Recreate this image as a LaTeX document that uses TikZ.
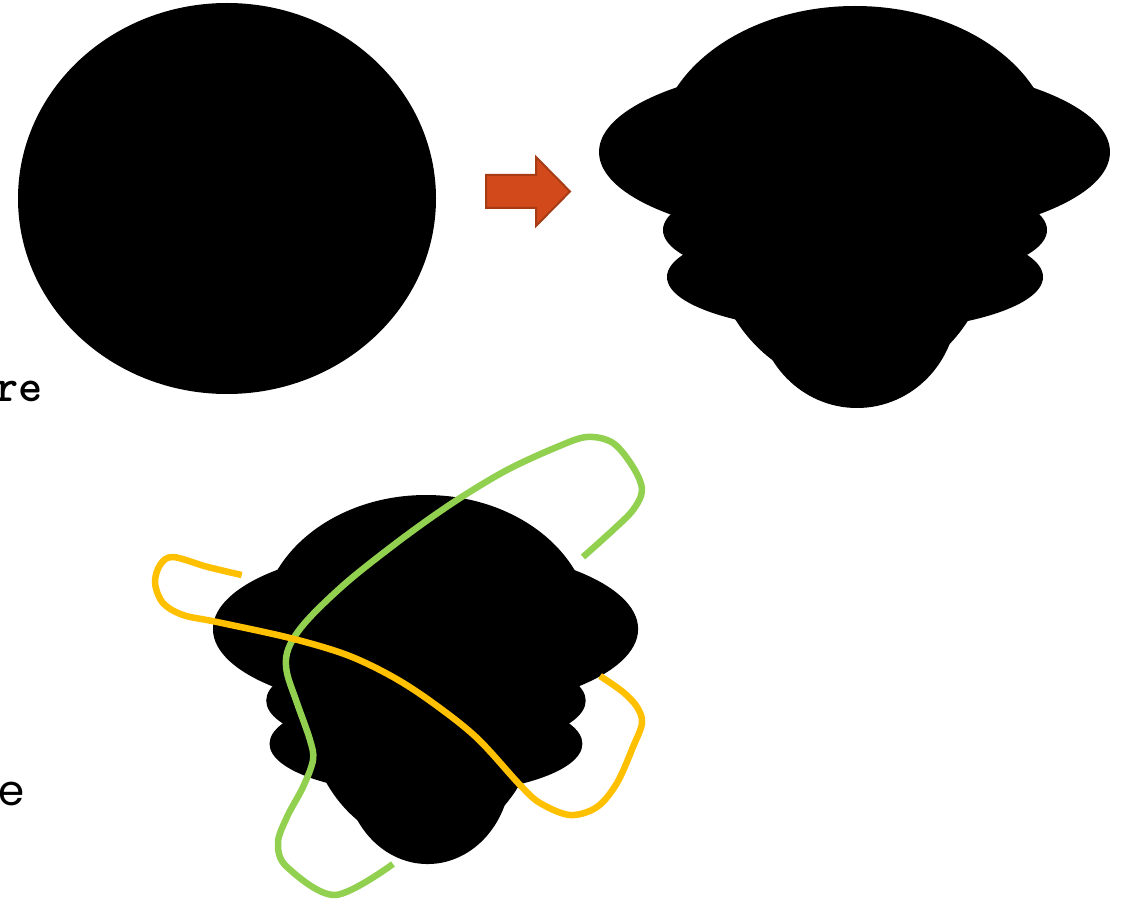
\documentclass[tikz,border=0pt]{standalone}
\usepackage{fontspec}
\newfontfamily\geofont{Poppins}
\definecolor{arrowfill}{HTML}{D24A1C}
\definecolor{arrowline}{HTML}{A63B14}
\definecolor{lgreen}{HTML}{92D050}
\definecolor{lgold}{HTML}{FFC000}
\tikzset{
  blobfill/.style={fill=black},
  wire/.style={line width=6.5pt, line cap=butt, line join=round},
}
\newcommand\myblob{%
  \fill[blobfill] (855,150) ellipse [x radius=198pt, y radius=144pt];
  \fill[blobfill] (854.5,152) ellipse [x radius=255.5pt, y radius=90pt];
  \fill[blobfill] (855,230) ellipse [x radius=192pt, y radius=56pt];
  \fill[blobfill] (855,277) ellipse [x radius=188pt, y radius=55pt];
  \fill[blobfill] (852,230) ellipse [x radius=142pt, y radius=157pt];
  \fill[blobfill] (857,305) ellipse [x radius=100pt, y radius=103pt];
}
\begin{document}
\begin{tikzpicture}[x=1pt,y=-1pt]
\useasboundingbox (0,0) rectangle (1130,901);
% left ellipse
\fill[blobfill] (227,198.5) ellipse [x radius=209pt, y radius=195.5pt];
% arrow
\draw[fill=arrowfill, draw=arrowline, line width=2pt, line join=miter]
  (486,175) -- (536,175) -- (536,157) -- (570,191.5) -- (536,226) -- (536,208) -- (486,208) -- cycle;
% right blob
\myblob
% lower blob
\begin{scope}[shift={(-285.4,489.5)}, xscale=0.832, yscale=0.918]
  \myblob
\end{scope}
% green wire
\draw[wire, lgreen] plot[smooth, tension=0.55] coordinates {
  (393,864) (335,895) (287,867) (278,843) (287,817) (303,787) (313,760) (310,740)
  (297,703) (287,673) (287,653) (297,633) (317,610) (353,577) (407,535) (457,500)
  (507,470) (557,447) (587,437) (613,443) (633,467) (642,490) (633,510) (613,530) (583,557)};
% yellow wire
\draw[wire, lgold] plot[smooth, tension=0.55] coordinates {
  (241.7,575) (206.7,566.7) (173,557) (160,565) (155,583) (163,603) (183,615) (217,622)
  (290,638) (347,655) (393,677) (433,703) (477,738) (520,785) (540,803) (570,815)
  (597,807) (617,783) (633,747) (642,723) (637,707) (623,692) (600,676)};
% texts
\node[font=\ttfamily\bfseries\fontsize{46}{50}\selectfont, anchor=base east, inner sep=0pt] (t1) at (43,401) {re};
\node[font=\geofont\fontsize{42}{46}\selectfont, anchor=base east, inner sep=0pt] (t2) at (25,805) {e};
\end{tikzpicture}
\end{document}
